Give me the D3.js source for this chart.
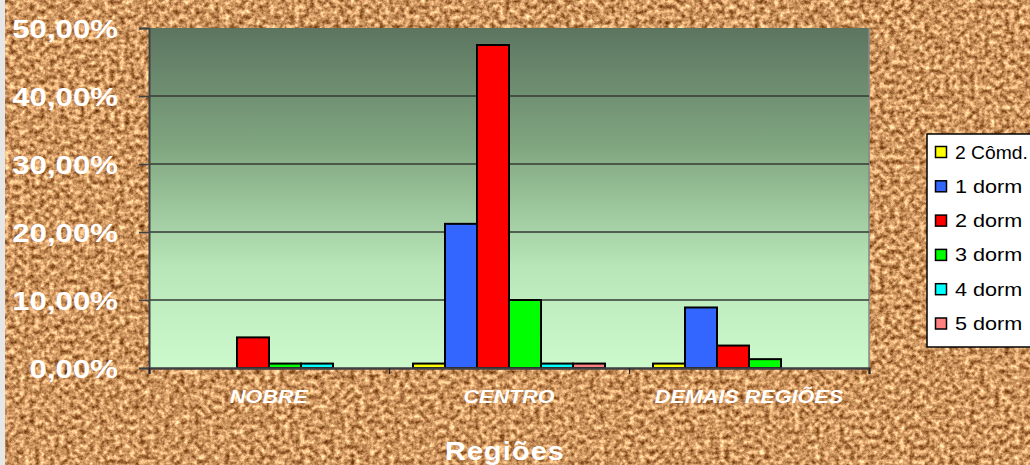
<!DOCTYPE html>
<html><head><meta charset="utf-8">
<script src="https://cdn.jsdelivr.net/npm/d3@7"></script>
<style>html,body{margin:0;padding:0;overflow:hidden;background:#fff}</style>
</head><body>
<svg id="c" width="1030" height="465"></svg>
<script>
const categories = ["NOBRE", "CENTRO", "DEMAIS REGIÕES"];
const seriesNames = ["2 Cômd.", "1 dorm", "2 dorm", "3 dorm", "4 dorm", "5 dorm"];
const seriesColors = ["#ffff00", "#3366ff", "#ff0000", "#00ff00", "#00ffff", "#ff8080"];
const v2Comd = [0, 0.65, 0.65];
const v1dorm = [0, 21.2, 8.9];
const v2dorm = [4.5, 47.5, 3.3];
const v3dorm = [0.65, 10.0, 1.3];
const v4dorm = [0.65, 0.65, 0];
const v5dorm = [0, 0.65, 0];
const seriesValues = [v2Comd, v1dorm, v2dorm, v3dorm, v4dorm, v5dorm];
const yTicks = [0, 10, 20, 30, 40, 50];
const xTitle = "Regiões";

const svg = d3.select("#c");
const defs = svg.append("defs");
const f = defs.append("filter").attr("id","cork").attr("x",0).attr("y",0).attr("width","100%").attr("height","100%")
  .attr("color-interpolation-filters","sRGB");
f.append("feTurbulence").attr("type","fractalNoise").attr("baseFrequency","0.2").attr("numOctaves",4).attr("seed",11).attr("result","n");
f.append("feColorMatrix").attr("type","matrix").attr("values",
  "1.05 0 0 0 0.28  1.05 0 0 0 0.06  0.95 0 0 0 -0.1  0 0 0 0 1");
const g = defs.append("linearGradient").attr("id","pg").attr("x1",0).attr("y1",0).attr("x2",0).attr("y2",1);
g.append("stop").attr("offset","0").attr("stop-color","#5c7560");
g.append("stop").attr("offset","0.35").attr("stop-color","#80a680");
g.append("stop").attr("offset","0.7").attr("stop-color","#b8e6b8");
g.append("stop").attr("offset","1").attr("stop-color","#cdfacd");

svg.append("rect").attr("width",1030).attr("height",465).attr("fill","#e6e6e6");
svg.append("rect").attr("x",5).attr("width",1025).attr("height",465).attr("fill","#c8925e").attr("filter","url(#cork)");

const L=149, R=869, T=28, B=368;
const y = d3.scaleLinear().domain([0,50]).range([B,T]);
const x0 = d3.scaleBand().domain(categories).range([L,R]).padding(0);
const pad = x0.bandwidth()*0.1;
const x1 = d3.scaleBand().domain(seriesNames).range([pad, x0.bandwidth()-pad]).padding(0);

svg.append("rect").attr("x",L).attr("y",T).attr("width",R-L).attr("height",B-T).attr("fill","url(#pg)");
svg.append("line").attr("x1",R).attr("x2",R).attr("y1",T).attr("y2",B).attr("stroke","#888").attr("stroke-width",1.5);

// gridlines
svg.append("g").selectAll("line").data(yTicks.filter(d=>d>0 && d<50)).join("line")
  .attr("x1",L).attr("x2",R).attr("y1",d=>y(d)).attr("y2",d=>y(d))
  .attr("stroke","#333a33").attr("stroke-width",1.6);

// y axis
const ya = svg.append("g").attr("transform",`translate(${L},0)`).call(d3.axisLeft(y).tickValues(yTicks).tickSize(10).tickFormat(""));
ya.select(".domain").attr("stroke","#404040").attr("stroke-width",2);
ya.selectAll(".tick line").attr("stroke","#404040").attr("stroke-width",1.5);

const fmt = d => d.toFixed(2).replace(".", ",") + "%";
svg.append("g").selectAll("text").data(yTicks).join("text")
  .attr("transform", d=>`translate(118,${y(d)+10}) scale(1.2,1)`)
  .attr("text-anchor","end").attr("fill","#fff")
  .attr("font-family","'Liberation Sans',Arial,sans-serif").attr("font-weight","bold").attr("font-size",26)
  .text(fmt);

// bars
const groups = svg.append("g").selectAll("g").data(categories).join("g")
  .attr("transform", c=>`translate(${x0(c)},0)`);
groups.selectAll("rect").data((c,ci)=>seriesNames.map((s,si)=>({s, si, v:seriesValues[si][ci]})).filter(d=>d.v>0))
  .join("rect")
  .attr("x",d=>x1(d.s)).attr("width",x1.bandwidth())
  .attr("y",d=>y(d.v)).attr("height",d=>B-y(d.v))
  .attr("fill",d=>seriesColors[d.si]).attr("stroke","#000").attr("stroke-width",2);

// x axis
const xa = svg.append("g").attr("transform",`translate(0,${B})`)
  .call(d3.axisBottom(d3.scaleLinear().domain([0,3]).range([L,R])).tickValues([0,1,2,3]).tickSize(6).tickFormat(""));
xa.select(".domain").attr("stroke","#404040").attr("stroke-width",2.5);
xa.selectAll(".tick line").attr("stroke","#222").attr("stroke-width",1.2);

svg.append("g").selectAll("text").data(categories).join("text")
  .attr("transform", c=>`translate(${x0(c)+x0.bandwidth()/2},403) scale(1.2,1)`)
  .attr("text-anchor","middle").attr("fill","#fff")
  .attr("font-family","'Liberation Sans',Arial,sans-serif").attr("font-weight","bold").attr("font-style","italic").attr("font-size",18)
  .text(d=>d);

svg.append("text").attr("transform","translate(505,460) scale(1.15,1)")
  .attr("text-anchor","middle").attr("fill","#fff").attr("letter-spacing",1)
  .attr("font-family","'Liberation Sans',Arial,sans-serif").attr("font-weight","bold").attr("font-size",25)
  .text(xTitle);

// legend
const lg = svg.append("g");
lg.append("rect").attr("x",927).attr("y",134).attr("width",120).attr("height",213)
  .attr("fill","#fff").attr("stroke","#000").attr("stroke-width",1.5);
const li = lg.selectAll("g").data(seriesNames).join("g")
  .attr("transform",(d,i)=>`translate(0,${152 + i*34.3})`);
li.append("rect").attr("x",935.5).attr("y",-5.5).attr("width",11).attr("height",11)
  .attr("fill",(d,i)=>seriesColors[i]).attr("stroke","#000").attr("stroke-width",1.5);
li.append("text").attr("transform",(d,i)=>`translate(955,6.5) scale(${i===0?1.07:1.2},1)`)
  .attr("fill","#000").attr("font-family","'Liberation Sans',Arial,sans-serif").attr("font-size",18)
  .text(d=>d);
</script>
</body></html>
